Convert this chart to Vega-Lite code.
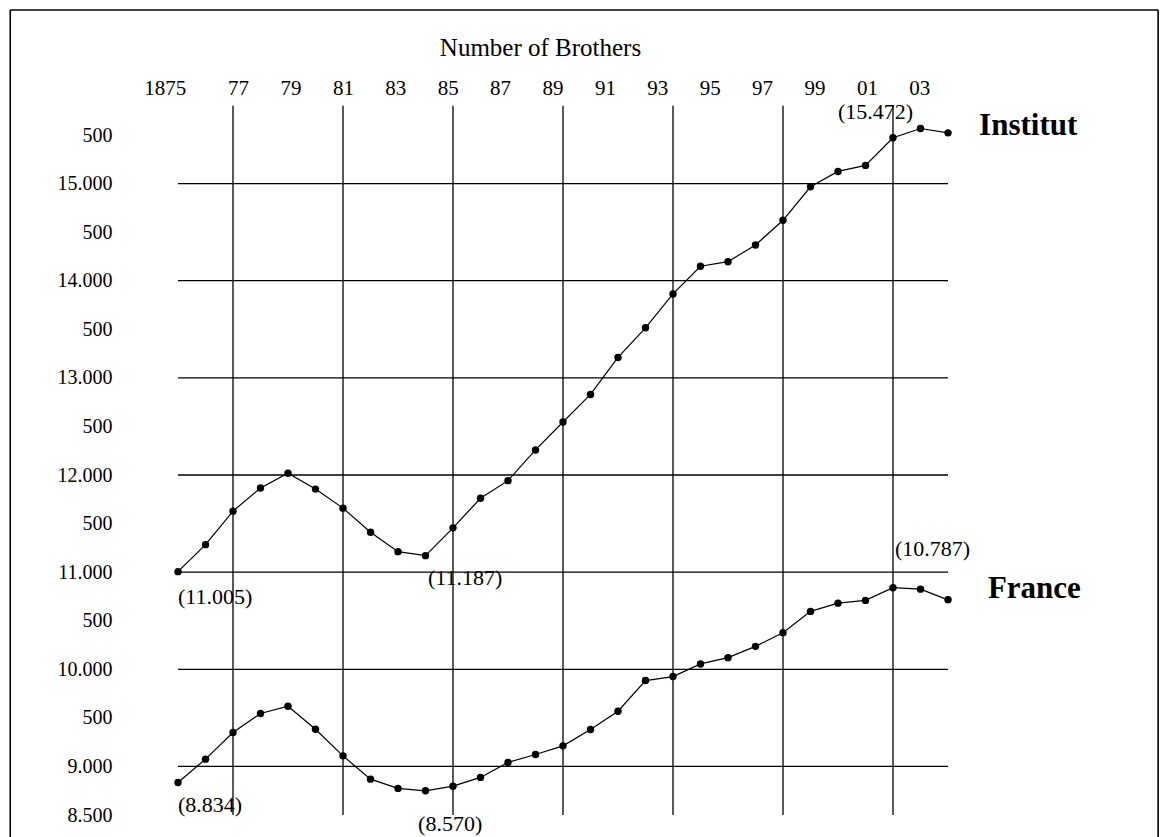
{
  "$schema": "https://vega.github.io/schema/vega-lite/v6.json",
  "width": 770,
  "height": 680,
  "autosize": {"type": "none"},
  "padding": {"left": 178, "top": 135, "right": 218, "bottom": 22},
  "background": "white",
  "config": {
    "view": {"stroke": null},
    "font": "Liberation Serif",
    "text": {"font": "Liberation Serif", "color": "black"}
  },
  "datasets": {
    "series": [
      {"series": "Institut", "year": 1875, "value": 11005},
      {"series": "Institut", "year": 1876, "value": 11283},
      {"series": "Institut", "year": 1877, "value": 11628},
      {"series": "Institut", "year": 1878, "value": 11866},
      {"series": "Institut", "year": 1879, "value": 12018},
      {"series": "Institut", "year": 1880, "value": 11855},
      {"series": "Institut", "year": 1881, "value": 11659},
      {"series": "Institut", "year": 1882, "value": 11410},
      {"series": "Institut", "year": 1883, "value": 11211},
      {"series": "Institut", "year": 1884, "value": 11170},
      {"series": "Institut", "year": 1885, "value": 11456},
      {"series": "Institut", "year": 1886, "value": 11761},
      {"series": "Institut", "year": 1887, "value": 11942},
      {"series": "Institut", "year": 1888, "value": 12258},
      {"series": "Institut", "year": 1889, "value": 12546},
      {"series": "Institut", "year": 1890, "value": 12829},
      {"series": "Institut", "year": 1891, "value": 13210},
      {"series": "Institut", "year": 1892, "value": 13515},
      {"series": "Institut", "year": 1893, "value": 13864},
      {"series": "Institut", "year": 1894, "value": 14149},
      {"series": "Institut", "year": 1895, "value": 14196},
      {"series": "Institut", "year": 1896, "value": 14368},
      {"series": "Institut", "year": 1897, "value": 14622},
      {"series": "Institut", "year": 1898, "value": 14967},
      {"series": "Institut", "year": 1899, "value": 15125},
      {"series": "Institut", "year": 1900, "value": 15187},
      {"series": "Institut", "year": 1901, "value": 15472},
      {"series": "Institut", "year": 1902, "value": 15567},
      {"series": "Institut", "year": 1903, "value": 15522},
      {"series": "France", "year": 1875, "value": 8834},
      {"series": "France", "year": 1876, "value": 9075},
      {"series": "France", "year": 1877, "value": 9349},
      {"series": "France", "year": 1878, "value": 9545},
      {"series": "France", "year": 1879, "value": 9620},
      {"series": "France", "year": 1880, "value": 9383},
      {"series": "France", "year": 1881, "value": 9109},
      {"series": "France", "year": 1882, "value": 8869},
      {"series": "France", "year": 1883, "value": 8774},
      {"series": "France", "year": 1884, "value": 8749},
      {"series": "France", "year": 1885, "value": 8797},
      {"series": "France", "year": 1886, "value": 8887},
      {"series": "France", "year": 1887, "value": 9041},
      {"series": "France", "year": 1888, "value": 9123},
      {"series": "France", "year": 1889, "value": 9212},
      {"series": "France", "year": 1890, "value": 9380},
      {"series": "France", "year": 1891, "value": 9568},
      {"series": "France", "year": 1892, "value": 9884},
      {"series": "France", "year": 1893, "value": 9925},
      {"series": "France", "year": 1894, "value": 10055},
      {"series": "France", "year": 1895, "value": 10120},
      {"series": "France", "year": 1896, "value": 10236},
      {"series": "France", "year": 1897, "value": 10377},
      {"series": "France", "year": 1898, "value": 10596},
      {"series": "France", "year": 1899, "value": 10681},
      {"series": "France", "year": 1900, "value": 10709},
      {"series": "France", "year": 1901, "value": 10840},
      {"series": "France", "year": 1902, "value": 10825},
      {"series": "France", "year": 1903, "value": 10715}
    ],
    "hgrid": [
      {"v": 9000}, {"v": 10000}, {"v": 11000}, {"v": 12000},
      {"v": 13000}, {"v": 14000}, {"v": 15000}
    ],
    "vgrid": [
      {"year": 1877}, {"year": 1881}, {"year": 1885}, {"year": 1889},
      {"year": 1893}, {"year": 1897}, {"year": 1901}
    ],
    "notes": [
      {"label": "(11.005)", "year": 1875.0, "value": 10740},
      {"label": "(11.187)", "year": 1884.09, "value": 10935},
      {"label": "(15.472)", "year": 1899.0, "value": 15737},
      {"label": "(10.787)", "year": 1901.07, "value": 11234},
      {"label": "(8.834)", "year": 1875.0, "value": 8603},
      {"label": "(8.570)", "year": 1883.73, "value": 8405}
    ],
    "names": [
      {"name": "Institut", "year": 1904.13, "value": 15593},
      {"name": "France", "year": 1904.45, "value": 10822}
    ],
    "ticks": [
      {"year": 1875}, {"year": 1877}, {"year": 1879}, {"year": 1881},
      {"year": 1883}, {"year": 1885}, {"year": 1887}, {"year": 1889},
      {"year": 1891}, {"year": 1893}, {"year": 1895}, {"year": 1897},
      {"year": 1899}, {"year": 1901}, {"year": 1903}
    ],
    "one": [{}]
  },
  "resolve": {"scale": {"x": "independent"}},
  "layer": [
    {
      "data": {"name": "hgrid"},
      "mark": {"type": "rule", "color": "black", "strokeWidth": 1.3},
      "encoding": {
        "y": {"field": "v", "type": "quantitative",
              "scale": {"domain": [8500, 15500], "nice": false, "zero": false},
              "axis": {
                "title": null,
                "orient": "left",
                "values": [8500, 9000, 9500, 10000, 10500, 11000, 11500, 12000, 12500, 13000, 13500, 14000, 14500, 15000, 15500],
                "labelExpr": "datum.value == 8500 ? '8.500' : (datum.value % 1000 == 0 ? toString(datum.value / 1000) + '.000' : '500')",
                "domain": false,
                "ticks": false,
                "grid": false,
                "labelPadding": 66,
                "labelFont": "Liberation Serif",
                "labelFontSize": 20,
                "labelColor": "black",
                "labelOverlap": false,
                "labelFlush": false
              }}
      }
    },
    {
      "data": {"name": "vgrid"},
      "mark": {"type": "rule", "color": "black", "strokeWidth": 1.3},
      "encoding": {
        "x": {"field": "year", "type": "quantitative", "axis": null,
              "scale": {"domain": [1875, 1903], "nice": false, "zero": false}},
        "y": {"datum": 15800, "type": "quantitative"},
        "y2": {"datum": 8500}
      }
    },
    {
      "data": {"name": "one"},
      "mark": {"type": "rule", "color": "black", "strokeWidth": 1.6},
      "encoding": {
        "x": {"datum": 1868.9, "type": "quantitative", "axis": null,
              "scale": {"domain": [1875, 1903], "nice": false, "zero": false}},
        "y": {"datum": 16787, "type": "quantitative"},
        "y2": {"datum": 8100}
      }
    },
    {
      "data": {"name": "one"},
      "mark": {"type": "rule", "color": "black", "strokeWidth": 1.6},
      "encoding": {
        "x": {"datum": 1910.64, "type": "quantitative", "axis": null,
              "scale": {"domain": [1875, 1903], "nice": false, "zero": false}},
        "y": {"datum": 16787, "type": "quantitative"},
        "y2": {"datum": 8100}
      }
    },
    {
      "data": {"name": "one"},
      "mark": {"type": "rule", "color": "black", "strokeWidth": 1.6},
      "encoding": {
        "x": {"datum": 1868.9, "type": "quantitative", "axis": null,
              "scale": {"domain": [1875, 1903], "nice": false, "zero": false}},
        "x2": {"datum": 1910.64},
        "y": {"datum": 16787, "type": "quantitative"}
      }
    },
    {
      "data": {"name": "series"},
      "mark": {"type": "line", "color": "black", "strokeWidth": 1.2},
      "encoding": {
        "x": {"field": "year", "type": "quantitative", "axis": null,
              "scale": {"domain": [1875, 1903], "nice": false, "zero": false}},
        "y": {"field": "value", "type": "quantitative"},
        "detail": {"field": "series"}
      }
    },
    {
      "data": {"name": "series"},
      "mark": {"type": "point", "filled": true, "color": "black", "size": 55, "opacity": 1},
      "encoding": {
        "x": {"field": "year", "type": "quantitative", "axis": null,
              "scale": {"domain": [1875, 1903], "nice": false, "zero": false}},
        "y": {"field": "value", "type": "quantitative"}
      }
    },
    {
      "data": {"name": "notes"},
      "mark": {"type": "text", "align": "left", "baseline": "middle", "fontSize": 22, "font": "Liberation Serif", "color": "black"},
      "encoding": {
        "x": {"field": "year", "type": "quantitative", "axis": null,
              "scale": {"domain": [1875, 1903], "nice": false, "zero": false}},
        "y": {"field": "value", "type": "quantitative"},
        "text": {"field": "label"}
      }
    },
    {
      "data": {"name": "names"},
      "mark": {"type": "text", "align": "left", "baseline": "middle", "fontSize": 31, "fontWeight": "bold", "font": "Liberation Serif", "color": "black"},
      "encoding": {
        "x": {"field": "year", "type": "quantitative", "axis": null,
              "scale": {"domain": [1875, 1903], "nice": false, "zero": false}},
        "y": {"field": "value", "type": "quantitative"},
        "text": {"field": "name"}
      }
    },
    {
      "data": {"name": "ticks"},
      "mark": {"type": "point", "opacity": 0},
      "encoding": {
        "x": {
          "field": "year", "type": "quantitative",
          "scale": {"domain": [1874.706, 1904.095], "nice": false, "zero": false},
          "axis": {
            "orient": "top",
            "title": "Number of Brothers",
            "values": [1875, 1877, 1879, 1881, 1883, 1885, 1887, 1889, 1891, 1893, 1895, 1897, 1899, 1901, 1903],
            "labelExpr": "datum.value == 1875 ? '1875' : substring(toString(datum.value), 2)",
            "labelAlign": {"condition": {"test": "datum.value == 1875", "value": "right"}, "value": "center"},
            "domain": false,
            "ticks": false,
            "grid": false,
            "labelPadding": 41,
            "labelBaseline": "alphabetic",
            "labelFont": "Liberation Serif",
            "labelFontSize": 21,
            "labelColor": "black",
            "labelOverlap": false,
            "labelFlush": false,
            "titleFont": "Liberation Serif",
            "titleFontSize": 25,
            "titleFontWeight": "normal",
            "titleColor": "black",
            "titleX": 362,
            "titleY": -80,
            "titleAlign": "center",
            "titleBaseline": "alphabetic"
          }
        }
      }
    }
  ]
}
